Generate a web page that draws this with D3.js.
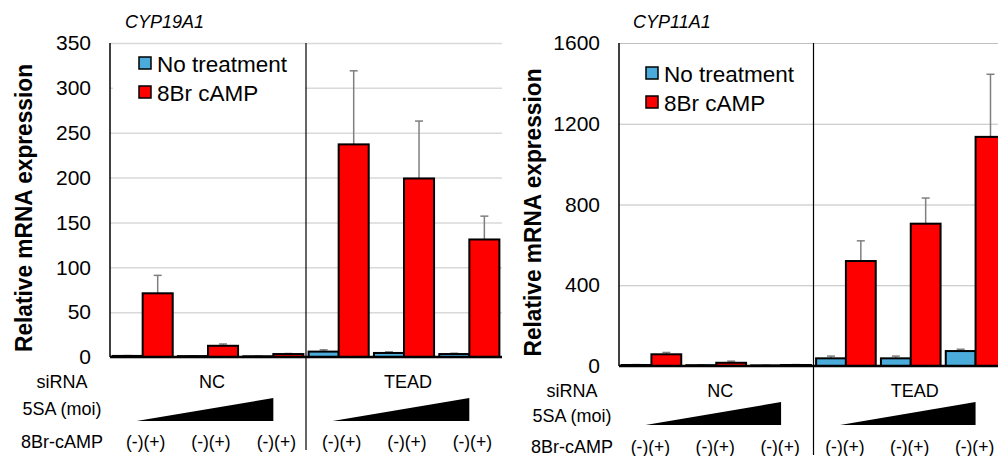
<!DOCTYPE html>
<html lang="en">
<head>
<meta charset="UTF-8">
<title>CYP19A1 / CYP11A1 relative mRNA expression</title>
<script src="https://cdn.jsdelivr.net/npm/d3@7"></script>
<style>
  body { margin: 0; background: #fff; }
  svg { display: block; font-family: "Liberation Sans", Arial, sans-serif; }
</style>
</head>
<body>
<svg width="998" height="456"></svg>
<script>
// categories
const groups = ["NC-1", "NC-2", "NC-3", "TEAD-1", "TEAD-2", "TEAD-3"];
const seriesNames = ["No treatment", "8Br cAMP"];
const sirnaLabels = ["NC", "TEAD"];
const campLabel = "(-)(+)";

// CYP19A1
const cyp19Ticks = [0, 50, 100, 150, 200, 250, 300, 350];
const cyp19None = [1.2, 1.0, 0.8, 6.0, 4.5, 3.3];
const cyp19NoneErr = [0.4, 0.4, 0.3, 2.0, 1.2, 0.9];
const cyp19Camp = [71, 12.5, 3.3, 237, 199, 131];
const cyp19CampErr = [20, 2, 0.6, 82, 64, 26];

// CYP11A1
const cyp11Ticks = [0, 400, 800, 1200, 1600];
const cyp11None = [5, 4, 3, 38, 38, 74];
const cyp11NoneErr = [2, 2, 1, 11, 11, 9];
const cyp11Camp = [58, 16, 5, 520, 705, 1135];
const cyp11CampErr = [9, 8, 2, 100, 127, 310];

const colors = ["#4bacdb", "#ff0000"];
const svg = d3.select("svg");

function drawPanel(p) {
  const g = svg.append("g");

  const x = d3.scaleBand().domain(groups).range([p.x0, p.x1])
      .paddingInner(0.08).paddingOuter(0.04);
  const xs = d3.scaleBand().domain(seriesNames).range([0, x.bandwidth()]);
  const y = d3.scaleLinear().domain([0, d3.max(p.ticks)]).range([p.yBase, p.yTop]);

  // gridlines
  g.append("g")
      .attr("transform", `translate(${p.x0},0)`)
      .call(d3.axisLeft(y).tickValues(p.ticks).tickSize(-(p.gridEnd - p.x0)).tickFormat(""))
      .call(a => a.select(".domain").remove())
      .call(a => a.selectAll("line").attr("stroke", p.grid).attr("stroke-width", p.gridW));

  // legend (white box over the grid)
  g.append("rect")
      .attr("x", p.legX - 26).attr("y", p.legY - 8)
      .attr("width", 192).attr("height", 60).attr("fill", "#fff");
  seriesNames.forEach((s, i) => {
    const ly = p.legY + i * 29;
    g.append("rect").attr("x", p.legX).attr("y", ly)
        .attr("width", 12).attr("height", 12)
        .attr("fill", colors[i]).attr("stroke", "#000").attr("stroke-width", 1.5);
    g.append("text").attr("x", p.legX + 18).attr("y", ly + 14.5)
        .attr("font-size", 22.5).attr("fill", "#000").text(s);
  });

  // bars
  const rows = groups.map((grp, i) => [
    {grp, s: seriesNames[0], v: p.none[i], e: p.noneErr[i]},
    {grp, s: seriesNames[1], v: p.camp[i], e: p.campErr[i]}
  ]).flat();

  // error bars (up only)
  const eb = g.append("g").attr("stroke", "#7f7f7f").attr("stroke-width", 1.5);
  rows.forEach(d => {
    const cx = x(d.grp) + xs(d.s) + xs.bandwidth() / 2;
    eb.append("line").attr("x1", cx).attr("x2", cx)
        .attr("y1", y(d.v)).attr("y2", y(d.v + d.e));
    eb.append("line").attr("x1", cx - 4).attr("x2", cx + 4)
        .attr("y1", y(d.v + d.e)).attr("y2", y(d.v + d.e));
  });

  g.append("g").selectAll("rect").data(rows).join("rect")
      .attr("x", d => x(d.grp) + xs(d.s))
      .attr("y", d => y(d.v))
      .attr("width", xs.bandwidth())
      .attr("height", d => p.yBase - y(d.v))
      .attr("fill", d => colors[seriesNames.indexOf(d.s)])
      .attr("stroke", "#000").attr("stroke-width", 2);

  // axes lines
  g.append("line").attr("x1", p.x0).attr("x2", p.x0)
      .attr("y1", p.yTop).attr("y2", p.yBase).attr("stroke", "#000").attr("stroke-width", 1.5);
  g.append("line").attr("x1", p.x0).attr("x2", p.x1)
      .attr("y1", p.yBase).attr("y2", p.yBase).attr("stroke", "#000").attr("stroke-width", 2.5);

  // separator between NC and TEAD
  const sepX = x(groups[3]) - x.step() * x.paddingInner() / 2;
  g.append("line").attr("x1", sepX).attr("x2", sepX)
      .attr("y1", p.yTop).attr("y2", p.rowCamp + 2).attr("stroke", "#000").attr("stroke-width", 1.2);

  // y tick labels
  g.append("g")
      .attr("transform", `translate(${p.x0},0)`)
      .call(d3.axisLeft(y).tickValues(p.ticks).tickSize(0).tickPadding(19).tickFormat(d3.format("d")))
      .call(a => a.select(".domain").remove())
      .call(a => a.selectAll("text").attr("font-size", 21).attr("fill", "#000")
          .attr("font-family", "Liberation Sans, Arial, sans-serif"));

  // y title
  g.append("text")
      .attr("transform", `translate(${p.yTitleX},${(p.yTop + p.yBase) / 2 + 8}) rotate(-90)`)
      .attr("text-anchor", "middle").attr("font-weight", "bold").attr("font-size", 24)
      .attr("textLength", 288).attr("lengthAdjust", "spacingAndGlyphs")
      .text("Relative mRNA expression");

  // gene title
  g.append("text").attr("x", p.geneX).attr("y", 28)
      .attr("font-style", "italic").attr("font-size", 18).text(p.gene);

  // row labels below the axis
  const rowLab = [["siRNA", p.rowSi], ["5SA (moi)", p.rowSA], ["8Br-cAMP", p.rowCamp]];
  rowLab.forEach(([t, yy]) => {
    g.append("text").attr("x", p.labX).attr("y", yy)
        .attr("text-anchor", "middle").attr("font-size", 18).text(t);
  });

  sirnaLabels.forEach((s, k) => {
    const a = x(groups[k * 3]), b = x(groups[k * 3 + 2]) + x.bandwidth();
    g.append("text").attr("x", (a + b) / 2 + 4).attr("y", p.rowSi)
        .attr("text-anchor", "middle").attr("font-size", 18).text(s);
    // increasing 5SA wedge
    const tx0 = a + 24, tx1 = x(groups[k * 3 + 2]) + xs.bandwidth();
    g.append("path")
        .attr("d", `M${tx0},${p.triBase}L${tx1},${p.triBase}L${tx1},${p.triBase - 23}Z`)
        .attr("fill", "#000");
  });

  groups.forEach(grp => {
    g.append("text").attr("x", x(grp) + x.bandwidth() / 2 + p.campOff).attr("y", p.rowCamp)
        .attr("text-anchor", "middle").attr("font-size", 17.5).text(campLabel);
  });
}

drawPanel({
  gene: "CYP19A1", ticks: cyp19Ticks,
  none: cyp19None, noneErr: cyp19NoneErr, camp: cyp19Camp, campErr: cyp19CampErr,
  x0: 110, x1: 502, gridEnd: 502, yTop: 43, yBase: 357, grid: "#d9d9d9", gridW: 1.5,
  legX: 139, legY: 57, yTitleX: 32, geneX: 125, labX: 62,
  rowSi: 388, rowSA: 415, rowCamp: 448, triBase: 421, campOff: 3
});

drawPanel({
  gene: "CYP11A1", ticks: cyp11Ticks,
  none: cyp11None, noneErr: cyp11NoneErr, camp: cyp11Camp, campErr: cyp11CampErr,
  x0: 619, x1: 1008, gridEnd: 1011, yTop: 43, yBase: 366, grid: "#c0c0c0", gridW: 1.2,
  legX: 646, legY: 67, yTitleX: 541, geneX: 633, labX: 572,
  rowSi: 397, rowSA: 422, rowCamp: 453, triBase: 425, campOff: -1
});
</script>
</body>
</html>
